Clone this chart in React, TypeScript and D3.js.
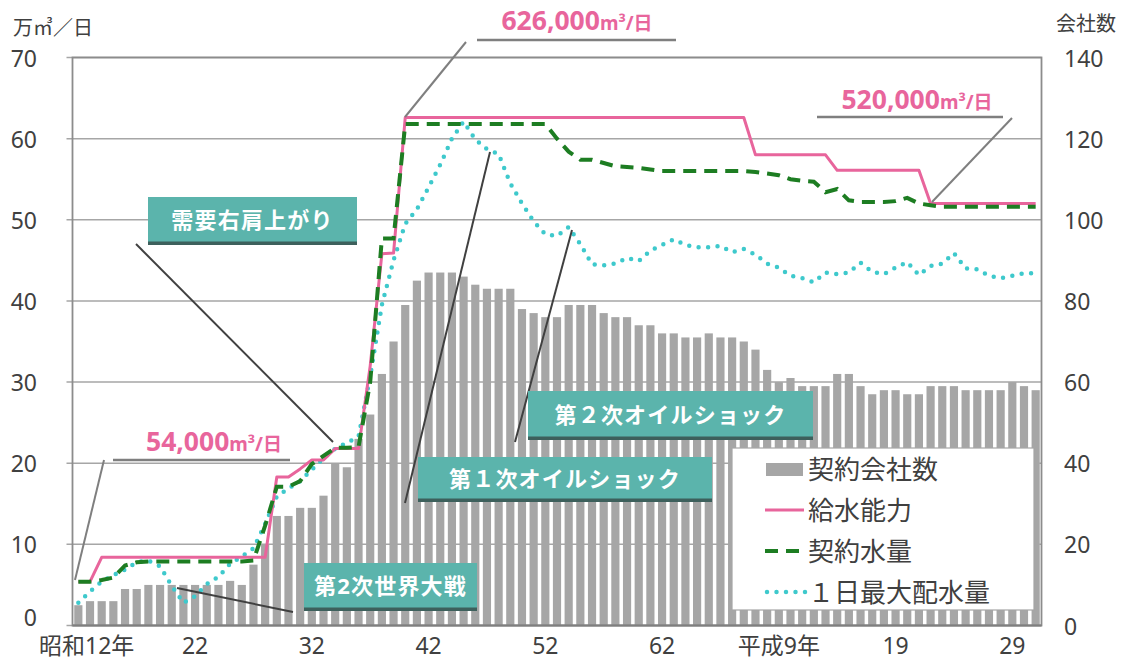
import React from 'react';
import * as d3 from 'd3';

// Categories: one per year, 昭和12年 (1937) … 2019
const years: number[] = d3.range(1937, 2020);

const tickYears = [1937, 1947, 1957, 1967, 1977, 1987, 1997, 2007, 2017];
const tickLabels = ['昭和12年', '22', '32', '42', '52', '62', '平成9年', '19', '29'];

const leftTicks = [0, 10, 20, 30, 40, 50, 60, 70];
const rightTicks = [0, 20, 40, 60, 80, 100, 120, 140];

// 契約会社数 (right axis)
const companies = [
  5, 6, 6, 6, 9, 9, 10, 10, 10, 10, 10, 10, 10, 11, 10, 15, 20, 27, 27, 29,
  29, 32, 40, 39, 46, 52, 62, 70, 79, 85, 87, 87, 87, 86, 84, 83, 83, 83, 78, 77,
  76, 76, 79, 79, 79, 77, 76, 76, 74, 74, 72, 72, 71, 71, 72, 71, 71, 70, 68, 63,
  60, 61, 59, 59, 59, 62, 62, 59, 57, 58, 58, 57, 57, 59, 59, 59, 58, 58, 58, 58,
  60, 59, 58,
];

// 給水能力 (万㎥/日)
const capacity = [
  5.4, 5.4, 8.4, 8.4, 8.4, 8.4, 8.4, 8.4, 8.4, 8.4, 8.4, 8.4, 8.4, 8.4, 8.4, 8.4, 8.4, 18.3, 18.3, 19.3,
  20.4, 20.4, 21.8, 21.8, 21.8, 32.0, 45.8, 45.9, 62.6, 62.6, 62.6, 62.6, 62.6, 62.6, 62.6, 62.6, 62.6, 62.6, 62.6, 62.6,
  62.6, 62.6, 62.6, 62.6, 62.6, 62.6, 62.6, 62.6, 62.6, 62.6, 62.6, 62.6, 62.6, 62.6, 62.6, 62.6, 62.6, 62.6, 58.0, 58.0,
  58.0, 58.0, 58.0, 58.0, 58.0, 56.1, 56.1, 56.1, 56.1, 56.1, 56.1, 56.1, 56.1, 52.0, 52.0, 52.0, 52.0, 52.0, 52.0, 52.0,
  52.0, 52.0, 52.0,
];

// 契約水量 (万㎥/日)
const contract = [
  5.4, 5.4, 5.6, 5.9, 7.4, 7.8, 7.9, 7.9, 7.9, 7.9, 7.9, 7.9, 7.9, 7.9, 7.9, 8.0, 12.3, 17.1, 17.1, 17.8,
  19.9, 20.9, 21.9, 21.9, 22.0, 30.0, 47.7, 47.7, 61.8, 61.8, 61.8, 61.8, 61.8, 61.8, 61.8, 61.8, 61.8, 61.8, 61.8, 61.8,
  61.8, 60.0, 58.4, 57.4, 57.4, 57.0, 56.6, 56.5, 56.4, 56.2, 56.0, 56.0, 56.0, 56.0, 56.0, 56.0, 56.0, 56.0, 55.9, 55.7,
  55.5, 55.0, 54.8, 54.7, 53.4, 53.8, 52.4, 52.2, 52.2, 52.2, 52.3, 52.7, 52.0, 51.8, 51.6, 51.6, 51.6, 51.6, 51.6, 51.6,
  51.6, 51.6, 51.6,
];

// 1日最大配水量 (万㎥/日)
const maxDaily = [
  2.8, 4.2, 5.4, 6.2, 6.9, 7.8, 8.0, 7.3, 4.9, 2.8, 3.6, 5.1, 6.0, 7.6, 8.5, 9.5, 12.5, 15.9, 16.9, 17.8,
  19.2, 20.6, 21.8, 22.5, 23.3, 30.7, 39.5, 45.0, 49.5, 51.3, 54.0, 56.8, 60.0, 62.1, 59.9, 58.7, 58.1, 54.5, 52.0, 49.8,
  48.2, 48.0, 49.1, 47.0, 44.5, 44.4, 44.6, 45.3, 44.9, 46.2, 46.9, 47.6, 46.9, 46.6, 46.6, 46.8, 46.0, 46.4, 45.7, 44.6,
  44.1, 43.1, 42.8, 42.3, 43.5, 43.3, 43.5, 44.7, 43.6, 43.3, 44.1, 44.8, 43.2, 44.3, 44.6, 45.9, 44.0, 43.9, 43.1, 42.8,
  43.1, 43.4, 43.4,
];

const legendLabels = ['契約会社数', '給水能力', '契約水量', '１日最大配水量'];

const FONT = "'Noto Sans', 'Noto Sans CJK JP', sans-serif";
const PINK = '#e8659c';
const GREEN = '#1d7d22';
const CYAN = '#3ec9cc';
const BAR = '#a6a6a6';
const TEAL = '#5bb4ac';
const TEXT = '#404040';

export default function App() {
  const W = 1125;
  const H = 664;
  const left = 72.5;
  const right = 1041.5;
  const top = 57.5;
  const bottom = 625.5;

  const x = d3
    .scaleBand<number>()
    .domain(years)
    .range([left, right])
    .paddingInner(0.3)
    .paddingOuter(0.15);
  const cx = (yr: number) => (x(yr) as number) + x.bandwidth() / 2;
  const yL = d3.scaleLinear().domain([0, 70]).range([bottom, top]);
  const yR = d3.scaleLinear().domain([0, 140]).range([bottom, top]);

  const mkLine = (vals: number[]) =>
    d3
      .line<number>()
      .x((_, i) => cx(years[i]))
      .y((v) => yL(v))(vals) ?? '';

  const callouts = [
    { x: 148, y: 197, w: 209, h: 48, text: '需要右肩上がり', lx1: 136, ly1: 244, lx2: 333, ly2: 442 },
    { x: 304, y: 563, w: 173, h: 48, text: '第2次世界大戦', lx1: 177, ly1: 588, lx2: 293, ly2: 612 },
    { x: 418, y: 457, w: 294, h: 45, text: '第１次オイルショック', lx1: 405, ly1: 503, lx2: 490, ly2: 152 },
    { x: 528, y: 391, w: 285, h: 49, text: '第２次オイルショック', lx1: 515, ly1: 442, lx2: 572, ly2: 230 },
  ];

  const pinkLabels = [
    { cx: 214, by: 451, num: '54,000', diag: [75, 580, 104, 460], hl: [113, 460, 290, 460] },
    { cx: 577, by: 30, num: '626,000', diag: [405, 117, 466, 42], hl: [477, 40, 676, 40] },
    { cx: 917, by: 109, num: '520,000', diag: [932, 202, 1012, 118], hl: [817, 117, 1003, 117] },
  ];

  const lg = { x: 732, y: 448, w: 302, h: 162 };
  const lgRows = [469, 510, 551, 592];

  return (
    <svg
      width={W}
      height={H}
      style={{ position: 'absolute', left: 0, top: 0, background: '#fff' }}
      fontFamily={FONT}
    >
      <rect x={0} y={0} width={W} height={H} fill="#fff" />
      {/* gridlines */}
      {leftTicks.map((t) => (
        <line key={'g' + t} x1={left - 6} x2={right} y1={yL(t)} y2={yL(t)} stroke="#a6a6a6" strokeWidth={1.5} />
      ))}
      {/* bars */}
      {years.map((yr, i) => (
        <rect
          key={'b' + yr}
          x={x(yr)}
          y={yR(companies[i])}
          width={x.bandwidth()}
          height={bottom - yR(companies[i])}
          fill={BAR}
        />
      ))}
      {/* plot border */}
      <rect x={left} y={top} width={right - left} height={bottom - top} fill="none" stroke="#8c8c8c" strokeWidth={1.8} />
      <line x1={left} x2={right} y1={bottom} y2={bottom} stroke="#7f7f7f" strokeWidth={2} />

      {/* series lines */}
      <path d={mkLine(maxDaily)} fill="none" stroke={CYAN} strokeWidth={4.5} strokeDasharray="0 9.5" strokeLinecap="round" />
      <path d={mkLine(capacity)} fill="none" stroke={PINK} strokeWidth={3} strokeLinejoin="round" />
      <path d={mkLine(contract)} fill="none" stroke={GREEN} strokeWidth={4} strokeDasharray="13 8" />

      {/* pink value annotations */}
      {pinkLabels.map((p) => (
        <g key={p.num}>
          <line x1={p.diag[0]} y1={p.diag[1]} x2={p.diag[2]} y2={p.diag[3]} stroke="#7f7f7f" strokeWidth={2} />
          <line x1={p.hl[0]} y1={p.hl[1]} x2={p.hl[2]} y2={p.hl[3]} stroke="#7f7f7f" strokeWidth={2.5} />
          <text x={p.cx} y={p.by} textAnchor="middle" fill={PINK} fontWeight="bold" fontSize={26.5}>
            {p.num}
            <tspan fontSize={19} fontWeight="bold">m³/日</tspan>
          </text>
        </g>
      ))}

      {/* callouts */}
      {callouts.map((c) => (
        <g key={c.text}>
          <line x1={c.lx1} y1={c.ly1} x2={c.lx2} y2={c.ly2} stroke="#404040" strokeWidth={2} />
          <rect x={c.x} y={c.y} width={c.w} height={c.h} fill="#3d605c" />
          <rect x={c.x} y={c.y} width={c.w} height={c.h - 3.5} fill={TEAL} />
          <text
            x={c.x + c.w / 2}
            y={c.y + (c.h - 3.5) / 2}
            textAnchor="middle"
            dominantBaseline="central"
            fill="#fff"
            fontWeight="bold"
            fontSize={22}
            letterSpacing={1.2}
          >
            {c.text}
          </text>
        </g>
      ))}

      {/* legend */}
      <rect x={lg.x} y={lg.y} width={lg.w} height={lg.h} fill="#fff" stroke="#a6a6a6" strokeWidth={1.2} />
      <rect x={766} y={lgRows[0] - 6} width={37} height={13} fill={BAR} />
      <line x1={765} x2={804} y1={lgRows[1]} y2={lgRows[1]} stroke={PINK} strokeWidth={3} />
      <line x1={765} x2={806} y1={lgRows[2]} y2={lgRows[2]} stroke={GREEN} strokeWidth={4} strokeDasharray="13 8" />
      <line x1={767} x2={806} y1={lgRows[3]} y2={lgRows[3]} stroke={CYAN} strokeWidth={4.5} strokeDasharray="0 9.5" strokeLinecap="round" />
      {legendLabels.map((l, i) => (
        <text key={l} x={808} y={lgRows[i]} dominantBaseline="central" fontSize={26} fill={TEXT}>
          {l}
        </text>
      ))}

      {/* left axis */}
      {leftTicks.map((t) => (
        <text
          key={'l' + t}
          x={37}
          y={t === 0 ? yL(t) - 9 : yL(t)}
          textAnchor="end"
          dominantBaseline="central"
          fontSize={23}
          fill={TEXT}
        >
          {t}
        </text>
      ))}
      {/* right axis */}
      {rightTicks.map((t) => (
        <text key={'r' + t} x={1064} y={yR(t)} textAnchor="start" dominantBaseline="central" fontSize={23} fill={TEXT}>
          {t}
        </text>
      ))}
      {/* x axis labels */}
      {tickYears.map((yr, i) => (
        <text
          key={'x' + yr}
          x={i === 0 ? 39 : cx(yr)}
          y={645}
          textAnchor={i === 0 ? 'start' : 'middle'}
          dominantBaseline="central"
          fontSize={23}
          fill={TEXT}
        >
          {tickLabels[i]}
        </text>
      ))}
      {/* axis titles */}
      <text x={13} y={27} dominantBaseline="central" fontSize={20} fill={TEXT}>万㎥／日</text>
      <text x={1086} y={23} textAnchor="middle" dominantBaseline="central" fontSize={20} fill={TEXT}>会社数</text>
    </svg>
  );
}
